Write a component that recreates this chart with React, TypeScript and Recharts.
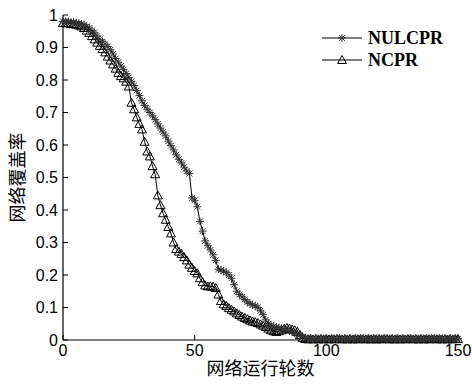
import React from 'react';
import { LineChart, Line, XAxis, YAxis, Legend } from 'recharts';

// coverage per round (rounds 0..150)
const nulcpr = [
  0.98, 0.98, 0.979, 0.978, 0.978, 0.976, 0.975, 0.972, 0.97, 0.965,
  0.96, 0.952, 0.945, 0.935, 0.925, 0.918, 0.91, 0.903, 0.893, 0.88,
  0.866, 0.855, 0.843, 0.832, 0.82, 0.808, 0.796, 0.783, 0.768, 0.752,
  0.736, 0.722, 0.71, 0.7, 0.69, 0.678, 0.665, 0.652, 0.64, 0.628,
  0.612, 0.598, 0.585, 0.57, 0.556, 0.545, 0.532, 0.52, 0.512, 0.437,
  0.43, 0.41, 0.365, 0.335, 0.305, 0.29, 0.277, 0.262, 0.245, 0.218,
  0.215, 0.212, 0.208, 0.2, 0.19, 0.17, 0.15, 0.14, 0.133, 0.125,
  0.117, 0.112, 0.108, 0.105, 0.1, 0.09, 0.078, 0.062, 0.05, 0.045,
  0.042, 0.04, 0.038, 0.036, 0.033, 0.03, 0.028, 0.025, 0.022, 0.018,
  0.015, 0.01, 0.006, 0.004, 0.004, 0.003, 0.004, 0.003, 0.004, 0.003,
  0.004, 0.003, 0.004, 0.004, 0.003, 0.004, 0.003, 0.004, 0.003, 0.004,
  0.003, 0.004, 0.004, 0.003, 0.004, 0.003, 0.004, 0.004, 0.003, 0.004,
  0.004, 0.003, 0.004, 0.003, 0.004, 0.004, 0.003, 0.004, 0.003, 0.004,
  0.003, 0.004, 0.004, 0.003, 0.004, 0.003, 0.004, 0.004, 0.003, 0.004,
  0.004, 0.003, 0.004, 0.003, 0.004, 0.004, 0.003, 0.004, 0.003, 0.004,
  0.004,
];

const ncpr = [
  0.975, 0.975, 0.975, 0.973, 0.972, 0.97, 0.968, 0.965, 0.96, 0.952,
  0.945, 0.935, 0.925, 0.915, 0.905, 0.895, 0.885, 0.872, 0.86, 0.848,
  0.835, 0.822, 0.812, 0.805, 0.795, 0.78, 0.73, 0.71, 0.685, 0.665,
  0.648, 0.61, 0.58, 0.565, 0.535, 0.51, 0.445, 0.415, 0.39, 0.37,
  0.348, 0.328, 0.3, 0.28, 0.272, 0.265, 0.255, 0.245, 0.232, 0.222,
  0.212, 0.205, 0.19, 0.178, 0.168, 0.165, 0.165, 0.164, 0.16, 0.14,
  0.12, 0.11, 0.105, 0.098, 0.093, 0.088, 0.082, 0.077, 0.072, 0.068,
  0.064, 0.06, 0.057, 0.055, 0.052, 0.048, 0.044, 0.04, 0.035, 0.03,
  0.027, 0.025, 0.027, 0.03, 0.035, 0.037, 0.035, 0.032, 0.03, 0.025,
  0.015, 0.006, 0.003, 0.002, 0.003, 0.002, 0.003, 0.002, 0.003, 0.002,
  0.003, 0.002, 0.003, 0.002, 0.003, 0.003, 0.002, 0.003, 0.002, 0.003,
  0.002, 0.003, 0.002, 0.003, 0.003, 0.002, 0.003, 0.002, 0.003, 0.002,
  0.003, 0.002, 0.003, 0.003, 0.002, 0.003, 0.002, 0.003, 0.002, 0.003,
  0.002, 0.003, 0.003, 0.002, 0.003, 0.002, 0.003, 0.002, 0.003, 0.002,
  0.003, 0.003, 0.002, 0.003, 0.002, 0.003, 0.002, 0.003, 0.002, 0.003,
  0.003,
];

const xTicks = [0, 50, 100, 150];
const yTicks = [0, 0.1, 0.2, 0.3, 0.4, 0.5, 0.6, 0.7, 0.8, 0.9, 1];

const data = nulcpr.map((v, i) => ({ round: i, nulcpr: v, ncpr: ncpr[i] }));

const tickFont = { fontFamily: '"Liberation Sans", Arial, sans-serif', fontSize: 16, fill: '#000' };
const cjkFont = '"Noto Sans CJK SC", sans-serif';

const Star = ({ cx, cy }: { cx: number; cy: number }) => {
  const r = 4;
  const d = 2.9;
  return (
    <g stroke="#333" strokeWidth={1}>
      <line x1={cx - r} y1={cy} x2={cx + r} y2={cy} />
      <line x1={cx} y1={cy - r} x2={cx} y2={cy + r} />
      <line x1={cx - d} y1={cy - d} x2={cx + d} y2={cy + d} />
      <line x1={cx - d} y1={cy + d} x2={cx + d} y2={cy - d} />
    </g>
  );
};

const Tri = ({ cx, cy }: { cx: number; cy: number }) => (
  <polygon
    points={`${cx},${cy - 4.5} ${cx - 4.5},${cy + 3.5} ${cx + 4.5},${cy + 3.5}`}
    fill="none"
    stroke="#000"
    strokeWidth={1}
  />
);

const starDot = (props: any) => {
  const { cx, cy, index } = props;
  if (cx == null || cy == null) return <g key={`u-${index}`} />;
  return <g key={`u-${index}`}><Star cx={cx} cy={cy} /></g>;
};

const triDot = (props: any) => {
  const { cx, cy, index } = props;
  if (cx == null || cy == null) return <g key={`c-${index}`} />;
  return <g key={`c-${index}`}><Tri cx={cx} cy={cy} /></g>;
};

const legendItems = [
  { name: 'NULCPR', Marker: Star },
  { name: 'NCPR', Marker: Tri },
];

const LegendBox = () => (
  <div>
    {legendItems.map(({ name, Marker }) => (
      <div key={name} style={{ display: 'flex', alignItems: 'center', height: 22 }}>
        <svg width={46} height={22}>
          <line x1={2} y1={11} x2={42} y2={11} stroke="#000" strokeWidth={1} />
          <Marker cx={22} cy={11} />
        </svg>
        <span
          style={{
            fontFamily: '"Liberation Serif", "Times New Roman", serif',
            fontWeight: 'bold',
            fontSize: 18,
            marginLeft: 2,
            color: '#000',
          }}
        >
          {name}
        </span>
      </div>
    ))}
  </div>
);

const YTitle = (props: any) => {
  const { viewBox } = props;
  const x = viewBox.x + 16;
  const y = viewBox.y + viewBox.height / 2;
  return (
    <text
      x={x}
      y={y}
      transform={`rotate(-90, ${x}, ${y})`}
      textAnchor="middle"
      dominantBaseline="central"
      fontFamily={cjkFont}
      fontSize={18}
      fill="#000"
    >
      网络覆盖率
    </text>
  );
};

export default function App() {
  return (
    <div style={{ position: 'absolute', left: 0, top: 0, width: 472, height: 385, background: '#fff' }}>
      <LineChart width={472} height={385} data={data} margin={{ top: 15, right: 14, left: 0, bottom: 0 }}>
        <XAxis
          dataKey="round"
          type="number"
          domain={[0, 150]}
          ticks={xTicks}
          height={45}
          tick={tickFont}
          tickSize={-5}
          tickMargin={10}
          axisLine={{ stroke: '#000', strokeWidth: 1.2 }}
          tickLine={{ stroke: '#000' }}
          label={{
            value: '网络运行轮数',
            position: 'insideBottom',
            offset: 10,
            style: { fontFamily: cjkFont, fontSize: 18, fill: '#000' },
          }}
        />
        <XAxis
          xAxisId="top"
          orientation="top"
          type="number"
          domain={[0, 150]}
          height={0}
          tick={false}
          tickLine={false}
          axisLine={{ stroke: '#000', strokeWidth: 1.2 }}
        />
        <YAxis
          type="number"
          domain={[0, 1]}
          ticks={yTicks}
          width={63}
          tick={tickFont}
          tickSize={-5}
          tickMargin={10}
          axisLine={{ stroke: '#000', strokeWidth: 1.2 }}
          tickLine={{ stroke: '#000' }}
          label={{ content: <YTitle /> }}
        />
        <YAxis
          yAxisId="right"
          orientation="right"
          type="number"
          domain={[0, 1]}
          width={0}
          tick={false}
          tickLine={false}
          axisLine={{ stroke: '#000', strokeWidth: 1.2 }}
        />
        <Line
          dataKey="ncpr"
          name="NCPR"
          type="linear"
          stroke="#000"
          strokeWidth={1}
          dot={triDot}
          activeDot={false}
          isAnimationActive={false}
        />
        <Line
          dataKey="nulcpr"
          name="NULCPR"
          type="linear"
          stroke="#000"
          strokeWidth={1}
          dot={starDot}
          activeDot={false}
          isAnimationActive={false}
        />
        <Legend
          layout="horizontal"
          verticalAlign="middle"
          align="center"
          content={<LegendBox />}
          wrapperStyle={{ left: 320, top: 27, width: 140 }}
        />
      </LineChart>
    </div>
  );
}
